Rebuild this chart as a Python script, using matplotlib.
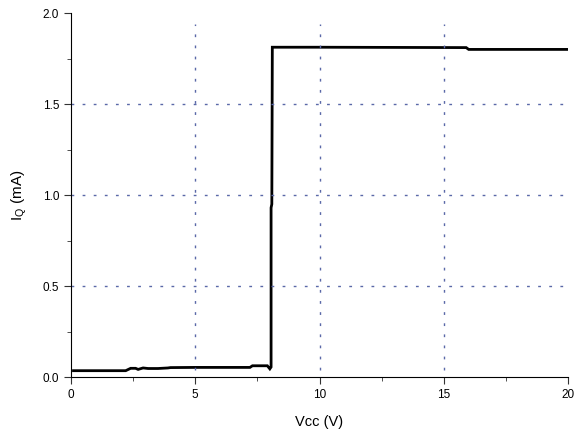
import numpy as np
import matplotlib
matplotlib.use('Agg')
import matplotlib.pyplot as plt
from matplotlib.ticker import MultipleLocator

plt.rcParams['font.family'] = ['Liberation Sans', 'DejaVu Sans']

# Vcc (V) vs quiescent current (mA)
vcc = [0.1, 2.2, 2.4, 2.6, 2.7, 2.9, 3.1, 3.5, 3.9, 4.0, 5.0, 7.2, 7.3, 7.9, 8.0, 8.05,
       8.05, 8.08, 8.1, 10.0, 15.9, 16.0, 20.0]
iq = [0.035, 0.035, 0.048, 0.048, 0.042, 0.05, 0.047, 0.047, 0.05, 0.052, 0.053, 0.053,
      0.062, 0.062, 0.045, 0.055, 0.93, 0.95, 1.812, 1.812, 1.81, 1.80, 1.80]

fig = plt.figure(figsize=(5.74, 4.41), dpi=100)
ax = fig.add_axes([0.1237, 0.145, 0.866, 0.8255])

ax.plot(vcc, iq, color='black', lw=2.0, solid_joinstyle='miter')

ax.set_xlim(0, 20)
ax.set_ylim(0, 2.0)
ax.xaxis.set_minor_locator(MultipleLocator(2.5))
ax.yaxis.set_minor_locator(MultipleLocator(0.25))
ax.set_xticks([0, 5, 10, 15, 20])
ax.set_xticklabels(['0', '5', '10', '15', '20'])
ax.set_yticks([0, 0.5, 1.0, 1.5, 2.0])
ax.set_yticklabels(['0.0', '0.5', '1.0', '1.5', '2.0'])

# dotted grid, blue-grey
for v in [5, 10, 15]:
    ax.plot([v, v], [0.04, 1.94], color='#5a68a8', ls=(0, (2, 6)), lw=1.0)
for h in [0.5, 1.0, 1.5]:
    ax.axhline(h, color='#5a68a8', ls=(0, (2, 6)), lw=1.0)

ax.spines['top'].set_visible(False)
ax.spines['right'].set_visible(False)
ax.tick_params(axis='both', which='major', direction='out', length=5, labelsize=8.5, color='#333333')
ax.tick_params(axis='both', which='minor', direction='out', length=3, color='#333333')

ax.set_xlabel('Vcc (V)', fontsize=10.5, labelpad=10)
ax.set_ylabel(r'I$_\mathregular{Q}$ (mA)', fontsize=11, labelpad=10)

fig.savefig('out.png', dpi=100)
